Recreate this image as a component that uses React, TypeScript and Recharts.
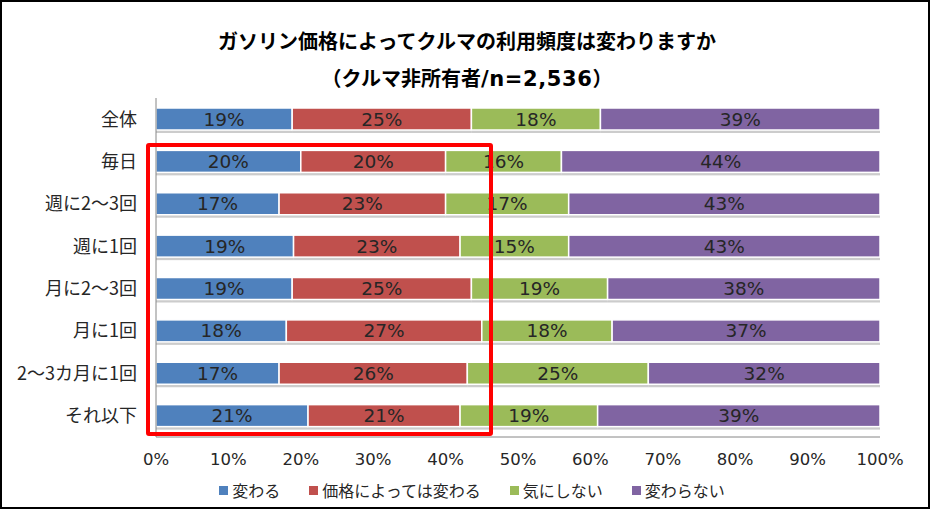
import { BarChart, Bar, XAxis, YAxis, Legend, LabelList } from 'recharts';

const categories = ['全体', '毎日', '週に2～3回', '週に1回', '月に2～3回', '月に1回', '2～3カ月に1回', 'それ以下'];
const kawaru = [19, 20, 17, 19, 19, 18, 17, 21];
const kakaku = [25, 20, 23, 23, 25, 27, 26, 21];
const kiniShinai = [18, 16, 17, 15, 19, 18, 25, 19];
const kawaranai = [39, 44, 43, 43, 38, 37, 32, 39];
const xTicks = [0, 0.1, 0.2, 0.3, 0.4, 0.5, 0.6, 0.7, 0.8, 0.9, 1];

const series = [
  { key: 'kawaru', name: '変わる', color: '#4F81BD' },
  { key: 'kakaku', name: '価格によっては変わる', color: '#C0504D' },
  { key: 'kiniShinai', name: '気にしない', color: '#9BBB59' },
  { key: 'kawaranai', name: '変わらない', color: '#8064A2' },
];

const data = categories.map((name, i) => ({
  name,
  kawaru: kawaru[i],
  kakaku: kakaku[i],
  kiniShinai: kiniShinai[i],
  kawaranai: kawaranai[i],
}));

const FONT = '"Noto Sans CJK JP", "Noto Sans", sans-serif';
const NUM_FONT = '"DejaVu Sans", Verdana, sans-serif';

function ShadowBar(props: any) {
  const { x, y, width, height, fill } = props;
  if (!width || width <= 0) return null;
  return (
    <g>
      <rect x={x} y={y + 3} width={width} height={height} fill="#9a9a9a" opacity={0.5} />
      <rect x={x} y={y} width={width} height={height} fill={fill} stroke="#fff" strokeWidth={1.5} />
    </g>
  );
}

function LegendContent() {
  return (
    <div style={{ display: 'flex', justifyContent: 'center', gap: 29, fontFamily: FONT, fontSize: 16, color: '#262626', height: 26, paddingLeft: 64 }}>
      {series.map((s) => (
        <div key={s.key} style={{ display: 'flex', alignItems: 'center' }}>
          <span style={{ display: 'inline-block', width: 9, height: 9, background: s.color, marginRight: 4 }} />
          <span>{s.name}</span>
        </div>
      ))}
    </div>
  );
}

export default function App() {
  return (
    <div style={{ position: 'absolute', left: 0, top: 0, width: 930, height: 509, background: '#fff' }}>
      <div style={{ position: 'absolute', inset: 0, border: '2px solid #000', boxSizing: 'border-box', pointerEvents: 'none', zIndex: 3 }} />
      <div style={{ position: 'absolute', left: 0, width: 934, top: 22, textAlign: 'center', fontFamily: FONT, fontWeight: 700, fontSize: 20, lineHeight: '37px', color: '#000' }}>
        <div>ガソリン価格によってクルマの利用頻度は変わりますか</div>
        <div>
          （クルマ非所有者
          <span style={{ fontFamily: NUM_FONT, fontSize: 21, letterSpacing: 0.6 }}>/n=2,536</span>
          ）
        </div>
      </div>
      <BarChart
        width={930}
        height={509}
        data={data}
        layout="vertical"
        stackOffset="expand"
        barCategoryGap={10}
        margin={{ top: 98, right: 50, bottom: 6, left: 0 }}
      >
        <XAxis
          type="number"
          domain={[0, 1]}
          ticks={xTicks}
          tickFormatter={(v: number) => `${Math.round(v * 100)}%`}
          axisLine={{ stroke: '#868686' }}
          tickLine={false}
          tick={{ fill: '#262626', fontSize: 16.5, fontFamily: NUM_FONT }}
          tickMargin={10}
          height={40}
          interval={0}
        />
        <YAxis
          type="category"
          dataKey="name"
          width={156}
          axisLine={{ stroke: '#868686' }}
          tickLine={false}
          tick={{ fill: '#262626', fontSize: 18, fontFamily: FONT }}
          tickMargin={13}
          interval={0}
        />
        <Legend verticalAlign="bottom" content={<LegendContent />} />
        {series.map((s) => (
          <Bar key={s.key} dataKey={s.key} name={s.name} stackId="a" fill={s.color} shape={<ShadowBar />} isAnimationActive={false}>
            <LabelList
              dataKey={s.key}
              position="center"
              formatter={(v: any) => `${v}%`}
              style={{ fill: '#262626', fontSize: 18.5, fontFamily: NUM_FONT }}
            />
          </Bar>
        ))}
      </BarChart>
      <div style={{ position: 'absolute', left: 146, top: 143, width: 347, height: 293, border: '4px solid #FF0000', borderRadius: 3, boxSizing: 'border-box', pointerEvents: 'none', zIndex: 2 }} />
    </div>
  );
}
